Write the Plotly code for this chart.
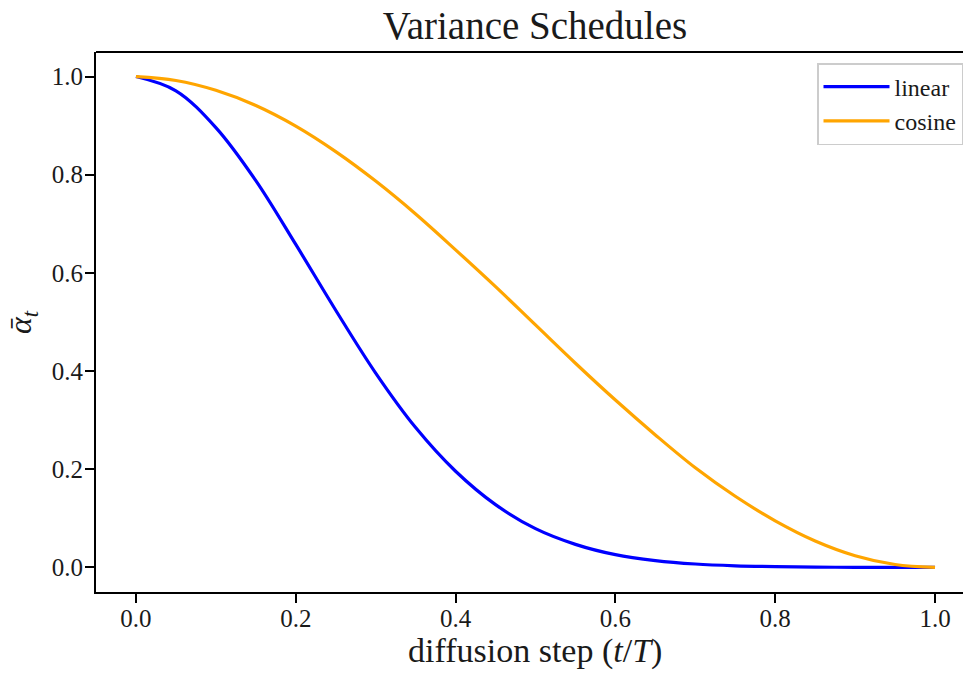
import plotly.graph_objects as go

# Normalised diffusion step t/T
t_frac = [0.00, 0.05, 0.10, 0.15, 0.20, 0.25, 0.30, 0.35, 0.40, 0.45, 0.50,
          0.55, 0.60, 0.65, 0.70, 0.75, 0.80, 0.85, 0.90, 0.95, 1.00]

# Cumulative product alpha-bar for the linear beta schedule
alpha_linear = [1.000, 0.971, 0.896, 0.788, 0.658, 0.524, 0.396, 0.285, 0.196,
                0.128, 0.079, 0.047, 0.026, 0.014, 0.007, 0.0034, 0.0016,
                0.0007, 0.0003, 0.0001, 0.0000]

# Cumulative product alpha-bar for the cosine schedule
alpha_cosine = [1.000, 0.992, 0.972, 0.941, 0.899, 0.847, 0.787, 0.720, 0.647,
                0.572, 0.494, 0.416, 0.341, 0.270, 0.203, 0.145, 0.095,
                0.054, 0.024, 0.006, 0.000]

x_ticks = [0.0, 0.2, 0.4, 0.6, 0.8, 1.0]
y_ticks = [0.0, 0.2, 0.4, 0.6, 0.8, 1.0]

FONT = "Liberation Serif, DejaVu Serif, serif"
INK = "#1a1a1a"

fig = go.Figure()
fig.add_trace(go.Scatter(x=t_frac, y=alpha_linear, mode="lines", name="linear",
                         line=dict(color="#0000ff", width=3.2, shape="spline")))
fig.add_trace(go.Scatter(x=t_frac, y=alpha_cosine, mode="lines", name="cosine",
                         line=dict(color="#ffa500", width=3.2, shape="spline")))

W, H = 963, 673
ml, mr, mt, mb = 96, 0, 52, 81
plot_w = W - ml - mr
axes_cx = (535 - ml) / plot_w  # centre of the full axes box (its right part is clipped)

fig.update_layout(
    width=W, height=H,
    margin=dict(l=ml, r=mr, t=mt, b=mb),
    paper_bgcolor="white", plot_bgcolor="white",
    font=dict(family=FONT, size=25, color=INK),
    title=dict(text="Variance Schedules", font=dict(family=FONT, size=39, color=INK),
               x=axes_cx, xref="paper", xanchor="center",
               y=1 - 25 / H, yref="container", yanchor="middle"),
    showlegend=True,
    legend=dict(x=1.0, xanchor="right", y=1 - 11 / (H - mt - mb), yanchor="top",
                bgcolor="white", bordercolor="#cccccc", borderwidth=1.5,
                font=dict(family=FONT, size=24, color=INK),
                tracegroupgap=0, itemwidth=66),
    xaxis=dict(range=[-0.05, 1.035], tickvals=x_ticks,
               ticktext=[f"{v:.1f}" for v in x_ticks],
               tickfont=dict(family=FONT, size=25, color=INK),
               ticklabelstandoff=-6,
               showgrid=False, zeroline=False,
               showline=True, linecolor="black", linewidth=1.8, mirror=False,
               ticks="outside", ticklen=9, tickwidth=1.8, tickcolor="black"),
    yaxis=dict(range=[-0.05, 1.05], tickvals=y_ticks,
               ticktext=[f"{v:.1f}" for v in y_ticks],
               tickfont=dict(family=FONT, size=25, color=INK),
               ticklabelstandoff=-3,
               showgrid=False, zeroline=False,
               showline=True, linecolor="black", linewidth=1.8, mirror=False,
               ticks="outside", ticklen=9, tickwidth=1.8, tickcolor="black"),
)

# axis titles
fig.add_annotation(text="diffusion step (<i>t</i>/<i>T</i>)", xref="paper", yref="paper",
                   x=axes_cx, y=0, xanchor="center", yanchor="middle", yshift=-59,
                   showarrow=False, font=dict(family=FONT, size=34, color=INK))
fig.add_annotation(text="<i>ᾱ</i><sub><i>t</i></sub>", xref="paper", yref="paper",
                   x=0, y=0.5, xanchor="center", yanchor="middle", xshift=-74,
                   textangle=-90, showarrow=False,
                   font=dict(family=FONT, size=32, color=INK))

# top spine (the right spine falls outside the figure)
fig.add_shape(type="line", xref="paper", yref="paper", x0=0, x1=1, y0=1, y1=1,
              line=dict(color="black", width=1.8))

fig.write_html("out.html")
